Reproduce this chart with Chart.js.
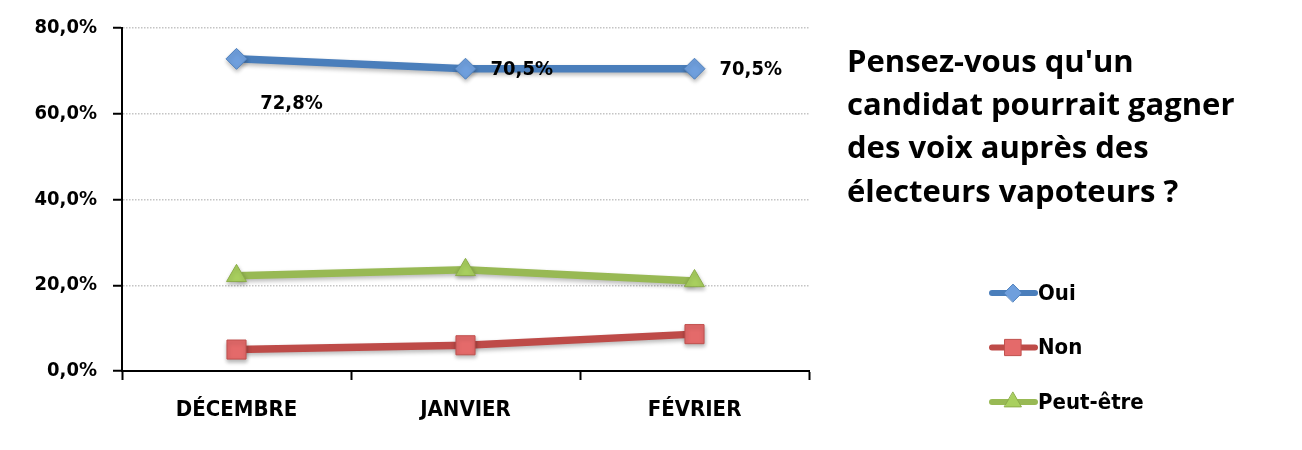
<!DOCTYPE html>
<html lang="fr">
<head>
<meta charset="utf-8">
<title>Vote des vapoteurs</title>
<script src="https://cdn.jsdelivr.net/npm/chart.js@4.4.1/dist/chart.umd.min.js"></script>
<style>
  html, body { margin: 0; padding: 0; background: #fff; }
  #wrap { width: 1302px; height: 450px; }
</style>
</head>
<body>
<div id="wrap"><canvas id="voteChart"></canvas></div>
<script>
// categories / series
const months = ['DÉCEMBRE', 'JANVIER', 'FÉVRIER'];
const oui = [72.8, 70.5, 70.5];
const non = [5.0, 6.0, 8.6];
const peutEtre = [22.2, 23.6, 21.0];
const yTicks = [0, 20, 40, 60, 80];
const titleLines = ["Pensez-vous qu'un", 'candidat pourrait gagner', 'des voix auprès des', 'électeurs vapoteurs ?'];

const narrow = "'Liberation Sans Narrow', 'DejaVu Sans Condensed', sans-serif";
const fmt = v => v.toFixed(1).replace('.', ',') + '%';

// title + legend on the right, labels for "Oui"
const sidePlugin = {
    id: 'side',
    afterDraw(chart) {
        const c = chart.ctx;
        c.save();
        c.fillStyle = '#000';
        c.textAlign = 'left';
        c.textBaseline = 'alphabetic';
        c.font = "bold 31px 'Open Sans', Lato, sans-serif";
        titleLines.forEach((t, i) => c.fillText(t, 847, 72 + i * 43.2));

        // legend
        c.font = 'bold 22px ' + narrow;
        c.textBaseline = 'middle';
        chart.data.datasets.forEach((ds, i) => {
            const y = 293 + i * 54.5;
            c.strokeStyle = ds.borderColor;
            c.lineWidth = 6;
            c.lineCap = 'round';
            c.beginPath();
            c.moveTo(992, y);
            c.lineTo(1035, y);
            c.stroke();
            c.fillStyle = ds.pointBackgroundColor;
            c.strokeStyle = ds.pointBorderColor;
            c.lineWidth = 1;
            Chart.helpers.drawPoint(c, {
                pointStyle: ds.pointStyle,
                radius: ds.pointRadius * 0.85,
                rotation: 0,
                borderWidth: 1
            }, 1013, y);
            c.fillStyle = '#000';
            c.fillText(ds.label, 1038, y + 1);
        });

        // point labels for the first series
        const meta = chart.getDatasetMeta(0);
        const offs = [[55, 45], [25, 1], [25, 1]];
        c.font = 'bold 20px ' + narrow;
        meta.data.forEach((pt, i) => {
            const v = chart.data.datasets[0].data[i];
            c.textAlign = i === 0 ? 'center' : 'left';
            c.fillText(fmt(v), pt.x + offs[i][0], pt.y + offs[i][1]);
        });
        c.restore();
    }
};

const shadowPlugin = {
    id: 'softShadow',
    beforeDatasetsDraw(chart) {
        const c = chart.ctx;
        c.save();
        c.shadowColor = 'rgba(0,0,0,0.28)';
        c.shadowBlur = 4;
        c.shadowOffsetY = 2.5;
        c.shadowOffsetX = 0.5;
    },
    afterDatasetsDraw(chart) {
        chart.ctx.restore();
    }
};

const ctx = document.getElementById('voteChart').getContext('2d');
const voteChart = new Chart(ctx, {
    type: 'line',
    data: {
        labels: months,
        datasets: [
            {
                label: 'Oui',
                data: oui,
                borderColor: '#4a7ebb',
                borderWidth: 7.5,
                pointStyle: 'rectRot',
                pointRadius: 10.5,
                pointBackgroundColor: '#6f9fdd',
                pointBorderColor: '#4f81bd',
                pointBorderWidth: 1
            },
            {
                label: 'Non',
                data: non,
                borderColor: '#be4b48',
                borderWidth: 7.5,
                pointStyle: 'rect',
                pointRadius: 13.5,
                pointBackgroundColor: '#e46a6a',
                pointBorderColor: '#c0504d',
                pointBorderWidth: 1
            },
            {
                label: 'Peut-être',
                data: peutEtre,
                borderColor: '#98b954',
                borderWidth: 7.5,
                pointStyle: 'triangle',
                pointRadius: 11.5,
                pointBackgroundColor: '#a9d05f',
                pointBorderColor: '#8cad4a',
                pointBorderWidth: 1
            }
        ]
    },
    options: {
        responsive: true,
        maintainAspectRatio: false,
        animation: false,
        layout: { padding: { top: 25, right: 493, left: 0, bottom: 0 } },
        plugins: {
            legend: { display: false },
            tooltip: { enabled: false }
        },
        elements: { line: { tension: 0 } },
        scales: {
            x: {
                offset: true,
                grid: {
                    offset: true,
                    drawOnChartArea: false,
                    tickLength: 9,
                    tickColor: '#000',
                    tickWidth: 2
                },
                border: { color: '#000', width: 2 },
                ticks: {
                    color: '#000',
                    padding: 17,
                    font: { family: narrow, size: 22, weight: 'bold' }
                },
                afterFit(scale) { scale.height = 79; }
            },
            y: {
                min: 0,
                max: 80,
                afterBuildTicks(scale) { scale.ticks = yTicks.map(v => ({ value: v })); },
                grid: {
                    color: '#c4c4c4',
                    lineWidth: 1.5,
                    tickLength: 9,
                    tickColor: '#000',
                    tickWidth: 2
                },
                border: { color: '#000', width: 2, dash: [1.5, 1.5] },
                ticks: {
                    color: '#000',
                    padding: 16,
                    font: { family: narrow, size: 20, weight: 'bold' },
                    callback: v => fmt(v)
                },
                afterFit(scale) { scale.width = 122; }
            }
        }
    },
    plugins: [shadowPlugin, sidePlugin]
});
</script>
</body>
</html>
